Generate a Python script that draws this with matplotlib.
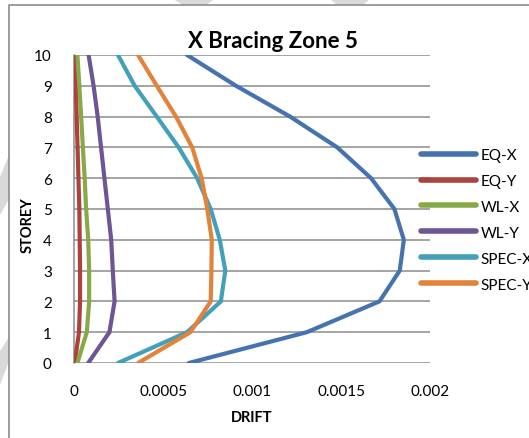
import matplotlib
matplotlib.use('Agg')
from matplotlib import pyplot as plt
from matplotlib.patches import Polygon
from matplotlib.lines import Line2D

plt.rcParams['font.family'] = ['Lato', 'DejaVu Sans']

storey = [0, 1, 2, 3, 4, 5, 6, 7, 8, 9, 10]

eq_x = [0.000645, 0.001308, 0.001716, 0.00183, 0.001853, 0.0018,
        0.001669, 0.001479, 0.001214, 0.00091, 0.000635]
eq_y = [0.000004, 0.000028, 0.000034, 0.000034, 0.000032, 0.00003,
        0.000025, 0.00002, 0.000015, 0.00001, 0.000005]
wl_x = [0.000019, 0.000072, 0.000085, 0.000085, 0.00008, 0.000068,
        0.00006, 0.00005, 0.00004, 0.00003, 0.000019]
wl_y = [0.00008, 0.000199, 0.000228, 0.000218, 0.000209, 0.00019,
        0.000171, 0.000152, 0.000133, 0.00011, 0.000082]
spec_x = [0.000247, 0.000635, 0.000825, 0.00085, 0.000819, 0.000768,
          0.000692, 0.000588, 0.000465, 0.000341, 0.000247]
spec_y = [0.00036, 0.000654, 0.000768, 0.000772, 0.000774, 0.000749,
          0.000717, 0.000664, 0.000573, 0.000465, 0.00036]

series = [('EQ-X', eq_x, '#4672b0'),
          ('EQ-Y', eq_y, '#ab423d'),
          ('WL-X', wl_x, '#88a948'),
          ('WL-Y', wl_y, '#6e5593'),
          ('SPEC-X', spec_x, '#43a0ba'),
          ('SPEC-Y', spec_y, '#e3823a')]

xticks = [0, 0.0005, 0.001, 0.0015, 0.002]
xticklabels = ['0', '0.0005', '0.001', '0.0015', '0.002']

W, H = 529, 439
fig = plt.figure(figsize=(W / 100, H / 100), dpi=100)


def px(x, y):
    return (x / W, 1 - y / H)


# faint stripes of the page behind the chart frame
for pts in ([(173, 0), (215, 0), (206, 6), (183, 6)],
            [(330, 0), (370, 0), (363, 6), (337, 6)],
            [(0, 178), (9, 156), (9, 200), (0, 216)],
            [(0, 352), (9, 338), (9, 362), (0, 386)]):
    fig.patches.append(Polygon([px(*p) for p in pts], closed=True,
                               transform=fig.transFigure,
                               facecolor='#d9d9d9', edgecolor='none'))

# chart frame
fig.add_artist(Line2D([9 / W, 9 / W, 1], [0, 1 - 6 / H, 1 - 6 / H],
                      transform=fig.transFigure, color='#8c8c8c', lw=1.2))

ax = fig.add_axes([74 / W, 1 - 364 / H, (430 - 74) / W, (364 - 56) / H])
for name, vals, col in series:
    ax.plot(vals, storey, color=col, lw=3.0, label=name,
            solid_capstyle='round', solid_joinstyle='round', zorder=3)

ax.set_xlim(0, 0.002)
ax.set_ylim(0, 10)
ax.set_xticks(xticks)
ax.set_xticklabels(xticklabels)
ax.set_yticks(storey)
ax.tick_params(length=0, labelsize=11, colors='black')
ax.tick_params(axis='x', pad=15)
ax.tick_params(axis='y', pad=16)
ax.grid(axis='y', color='#8c8c8c', lw=1.1)
ax.set_axisbelow(True)
for s in ['top', 'right', 'bottom']:
    ax.spines[s].set_visible(False)
ax.spines['left'].set_color('#8c8c8c')
ax.spines['left'].set_linewidth(1.1)

fig.text(*px(252, 418), 'DRIFT', ha='center', va='center',
         fontsize=10.5, fontweight='bold')
fig.text(*px(28, 225), 'STOREY', ha='center', va='center', rotation=90,
         fontsize=10.5, fontweight='bold')
fig.text(*px(273, 41), 'X Bracing Zone 5', ha='center', va='center',
         fontsize=16, fontweight='bold')

# legend sits to the right; the last labels run past the figure edge
leg = ax.legend(loc='upper left', bbox_to_anchor=px(421, 149),
                bbox_transform=fig.transFigure, frameon=False,
                fontsize=11, handlelength=3.6, handletextpad=0.28,
                labelspacing=0.78, borderpad=0, borderaxespad=0)
for h in leg.get_lines():
    h.set_linewidth(4.0)

fig.savefig('out.png', dpi=100)
